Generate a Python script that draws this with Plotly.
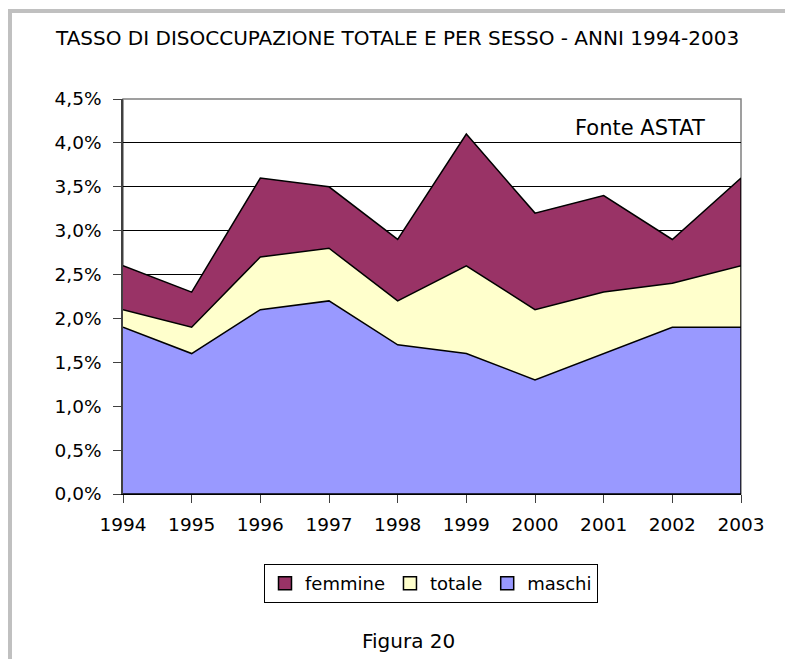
import plotly.graph_objects as go

years = [1994, 1995, 1996, 1997, 1998, 1999, 2000, 2001, 2002, 2003]
femmine = [0.026, 0.023, 0.036, 0.035, 0.029, 0.041, 0.032, 0.034, 0.029, 0.036]
totale = [0.021, 0.019, 0.027, 0.028, 0.022, 0.026, 0.021, 0.023, 0.024, 0.026]
maschi = [0.019, 0.016, 0.021, 0.022, 0.017, 0.016, 0.013, 0.016, 0.019, 0.019]
y_ticks = [0, 0.005, 0.01, 0.015, 0.02, 0.025, 0.03, 0.035, 0.04, 0.045]

series = [("femmine", femmine, "#993366"), ("totale", totale, "#FFFFCC"), ("maschi", maschi, "#9999FF")]

OFF = 8  # page body margin
W, H = 793 - OFF, 659 - OFF
L, R, T, B = 123, 741, 99, 494  # plot area in screen pixels

def px(x):
    return (x - L) / (R - L)

def py(y):
    return (B - y) / (B - T)

FONT = "DejaVu Sans"

fig = go.Figure()
for name, vals, col in series:
    fig.add_trace(go.Scatter(
        x=years + [years[-1], years[0]],
        y=vals + [0, 0],
        name=name, mode="lines", fill="toself", fillcolor=col,
        line=dict(color="black", width=1.5),
        hoverinfo="skip", showlegend=False,
    ))
for name, vals, col in series:
    fig.add_trace(go.Scatter(
        x=[None], y=[None], name=name, mode="markers",
        marker=dict(symbol="square", size=13, color=col, line=dict(color="black", width=1.5)),
        showlegend=True,
    ))

fig.update_layout(
    width=W, height=H,
    margin=dict(l=L - OFF, r=793 - R, t=T - OFF, b=659 - B, pad=0),
    paper_bgcolor="white", plot_bgcolor="white",
    separators=",.",
    font=dict(family=FONT, size=18, color="black"),
    showlegend=True,
    legend=dict(orientation="h", x=px(431), xanchor="center", y=py(564), yanchor="top",
                bordercolor="black", borderwidth=1, font=dict(size=18),
                itemwidth=30, tracegroupgap=0),
    xaxis=dict(range=[years[0], years[-1]], tickvals=years, showgrid=False,
               showline=True, linecolor="black", linewidth=1,
               ticks="outside", ticklen=8, tickcolor="#404040",
               ticklabelstandoff=6,
               tickfont=dict(size=18.5), zeroline=False),
    yaxis=dict(range=[0, 0.045], tickvals=y_ticks, tickformat=".1%",
               showgrid=True, gridcolor="black", gridwidth=1,
               showline=True, linecolor="#404040", linewidth=1.5,
               ticks="outside", ticklen=8, tickcolor="#404040",
               ticklabelstandoff=8,
               tickfont=dict(size=18.5), zeroline=False),
    shapes=[
        dict(type="rect", xref="paper", yref="paper", x0=0, x1=1, y0=0, y1=1,
             line=dict(color="#808080", width=1.5), layer="below"),
        dict(type="rect", xref="paper", yref="paper", x0=px(8), x1=px(12), y0=py(700), y1=py(9),
             line=dict(width=0), fillcolor="#c0c0c0"),
        dict(type="rect", xref="paper", yref="paper", x0=px(8), x1=px(800), y0=py(13), y1=py(9),
             line=dict(width=0), fillcolor="#c0c0c0"),
    ],
    annotations=[
        dict(text="TASSO DI DISOCCUPAZIONE TOTALE E PER SESSO - ANNI 1994-2003",
             xref="paper", yref="paper", x=px(397), y=py(38), xanchor="center", yanchor="middle",
             showarrow=False, font=dict(size=20)),
        dict(text="Fonte ASTAT", xref="paper", yref="paper", x=px(640), y=py(128),
             xanchor="center", yanchor="middle", showarrow=False, font=dict(size=21)),
        dict(text="Figura 20", xref="paper", yref="paper", x=px(408), y=py(641),
             xanchor="center", yanchor="middle", showarrow=False, font=dict(size=20)),
    ],
)

fig.write_html("out.html")
